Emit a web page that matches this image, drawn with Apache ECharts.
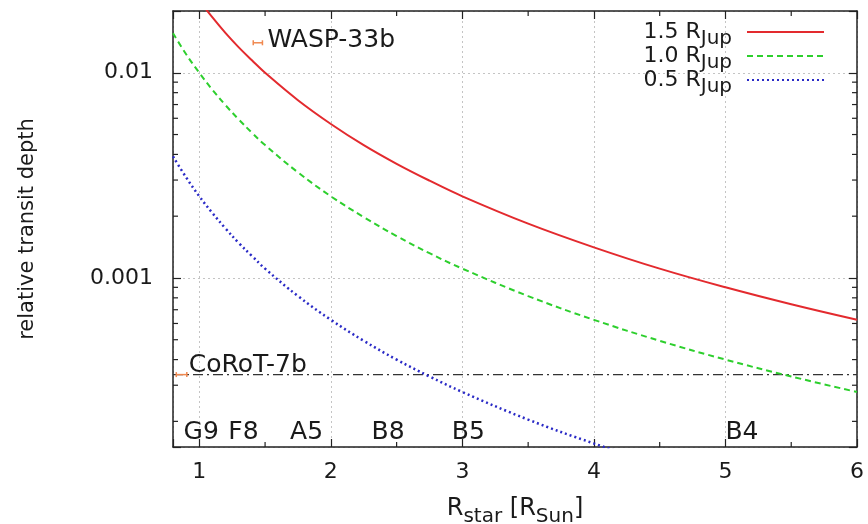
<!DOCTYPE html>
<html lang="en">
<head>
  <meta charset="UTF-8">
  <title>Relative transit depth vs stellar radius</title>
  <script src="https://cdn.jsdelivr.net/npm/echarts@6/dist/echarts.min.js"></script>
  <style>
    html, body { margin: 0; padding: 0; background: #fff; }
    #chart { width: 868px; height: 524px; }
  </style>
</head>
<body>
  <div id="chart"></div>
  <script>
    // stellar radius samples [R_Sun] and depth
    const rStar = [0.8, 0.9, 1.0, 1.1, 1.2, 1.3, 1.4, 1.5, 1.75, 2, 2.25, 2.5, 2.75, 3, 3.5, 4, 4.5, 5, 5.5, 6];
    const depth15 = [null, null, 0.0225, 0.0186, 0.0156, 0.0133, 0.0115, 0.0100, 0.00735, 0.00563, 0.00444, 0.00360, 0.00298, 0.00250, 0.00184, 0.00141, 0.00111, 0.00090, 0.000744, 0.000625];
    const depth10 = [0.0156, 0.0123, 0.0100, 0.00826, 0.00694, 0.00592, 0.00510, 0.00444, 0.00327, 0.00250, 0.00198, 0.00160, 0.00132, 0.00111, 0.000816, 0.000625, 0.000494, 0.000400, 0.000331, 0.000278];
    const depth05 = [0.00391, 0.00309, 0.00250, 0.00207, 0.00174, 0.00148, 0.00128, 0.00111, 0.000816, 0.000625, 0.000494, 0.000400, 0.000331, 0.000278, 0.000204, 0.000156, 0.000123, null, null, null];

    // spectral types along the bottom
    const specTypes = ['G9', 'F8', 'A5', 'B8', 'B5', 'B4'];
    const specRadius = [0.88, 1.22, 1.69, 2.31, 2.92, 5.0];
    const specLabelDepth = 0.000177;

    // known planets
    const planets = ['WASP-33b', 'CoRoT-7b'];
    const planetRadius = [1.445, 0.865];
    const planetRadiusErr = [0.035, 0.04];
    const planetDepth = [0.0140, 0.000338];

    const xMinorTicks = [1.5, 2.5, 3.5, 4.5, 5.5];
    const yMinorTicks = [0.0002, 0.0003, 0.0004, 0.0005, 0.0006, 0.0007, 0.0008, 0.0009,
      0.002, 0.003, 0.004, 0.005, 0.006, 0.007, 0.008, 0.009];

    const X_MIN = 0.8, X_MAX = 6, Y_MIN = 0.00015, Y_MAX = 0.02;
    const FONT = 'DejaVu Sans';
    const INK = '#1a1a1a';
    const labelOffset = [[5, -2], [2, -9]];

    const frame = { show: true, lineStyle: { color: '#222', width: 1.5 } };
    const tick = { show: true, inside: true, length: 8, lineStyle: { color: '#222', width: 1.2 } };
    const grid = { show: false, left: 173, right: 11, top: 11, bottom: 77, outerBoundsMode: 'none', containLabel: false };
    const dotted = { show: true, lineStyle: { color: '#c4c4c4', type: [2, 3], width: 1 } };

    const legendRich = {
      m: { fontSize: 22, fontFamily: FONT, color: INK, lineHeight: 22, verticalAlign: 'top' },
      s: { fontSize: 20, fontFamily: FONT, color: INK, lineHeight: 16, verticalAlign: 'top', padding: [8, 0, 0, 0] }
    };
    const titleRich = {
      m: { fontSize: 24, fontFamily: FONT, color: INK, lineHeight: 24, verticalAlign: 'top' },
      s: { fontSize: 20, fontFamily: FONT, color: INK, lineHeight: 18, verticalAlign: 'top', padding: [10, 0, 0, 0] }
    };

    function logLabel(v) {
      const e = Math.round(Math.log10(v));
      return Math.abs(Math.log10(v) - e) < 1e-6 ? (Math.pow(10, e)).toFixed(-e) : '';
    }

    const chart = echarts.init(document.getElementById('chart'));
    chart.setOption({
      animation: false,
      textStyle: { fontFamily: FONT },
      grid: grid,
      legend: {
        orient: 'vertical',
        right: 38,
        top: 16,
        align: 'right',
        itemWidth: 77,
        itemHeight: 14,
        itemGap: -4,
        selectedMode: false,
        itemStyle: { opacity: 0 },
        formatter: name => '{m|' + name + ' R}{s|Jup}',
        textStyle: { padding: [0, 10, 0, 0], rich: legendRich }
      },
      xAxis: [{
        type: 'value', min: X_MIN, max: X_MAX, position: 'bottom',
        axisLine: frame, axisTick: tick,
        axisLabel: {
          fontSize: 22, color: INK, margin: 14, fontFamily: FONT,
          formatter: v => Math.abs(v - Math.round(v)) < 1e-9 ? String(Math.round(v)) : ''
        },
        splitLine: dotted,
        name: '{m|R}{s|star}{m| [R}{s|Sun}{m|]}',
        nameLocation: 'middle', nameGap: 50,
        nameTextStyle: { rich: titleRich }
      }, {
        type: 'value', min: X_MIN, max: X_MAX, position: 'top',
        axisLine: frame, axisTick: tick, axisLabel: { show: false }, splitLine: { show: false }
      }],
      yAxis: [{
        type: 'log', logBase: 10, min: Y_MIN, max: Y_MAX, position: 'left',
        axisLine: frame, axisTick: tick,
        axisLabel: { fontSize: 22, color: INK, margin: 20, fontFamily: FONT, formatter: logLabel },
        splitLine: dotted,
        name: 'relative transit depth',
        nameLocation: 'middle', nameGap: 135,
        nameTextStyle: { fontSize: 21, color: INK, fontFamily: FONT }
      }, {
        type: 'log', logBase: 10, min: Y_MIN, max: Y_MAX, position: 'right',
        axisLine: frame, axisTick: tick, axisLabel: { show: false }, splitLine: { show: false }
      }],
      series: [{
        name: '1.5', type: 'line', symbol: 'none', smooth: 0.4,
        color: '#e32a2e',
        lineStyle: { width: 2, type: 'solid' },
        data: rStar.map((x, i) => [x, depth15[i]])
      }, {
        name: '1.0', type: 'line', symbol: 'none', smooth: 0.4,
        color: '#2dcf2d',
        lineStyle: { width: 2, type: [6, 4] },
        data: rStar.map((x, i) => [x, depth10[i]])
      }, {
        name: '0.5', type: 'line', symbol: 'none', smooth: 0.4,
        color: '#2a2ac6',
        lineStyle: { width: 2.5, type: [2, 3] },
        data: rStar.map((x, i) => [x, depth05[i]])
      }, {
        // CoRoT-7b depth across the whole range
        type: 'custom', silent: true, z: 3,
        data: [[X_MIN, planetDepth[1]]],
        renderItem: function (params, api) {
          const a = api.coord([X_MIN, api.value(1)]);
          const b = api.coord([X_MAX, api.value(1)]);
          return {
            type: 'line', shape: { x1: a[0], y1: a[1], x2: b[0], y2: b[1] },
            style: { stroke: '#333', lineWidth: 1.3, lineDash: [10, 4, 2, 4] }
          };
        }
      }, {
        // spectral type labels
        type: 'custom', silent: true, z: 4,
        data: specRadius.map((x, i) => [x, specLabelDepth]),
        renderItem: function (params, api) {
          const p = api.coord([api.value(0), api.value(1)]);
          return {
            type: 'text', x: p[0], y: p[1],
            style: { text: specTypes[params.dataIndex], fill: INK, font: '25px "DejaVu Sans"', align: 'left', verticalAlign: 'middle' }
          };
        }
      }, {
        type: 'custom', silent: true, z: 5,
        data: planetRadius.map((x, i) => [x, planetDepth[i]]),
        renderItem: function (params, api) {
          const i = params.dataIndex;
          const y = api.coord([planetRadius[i], planetDepth[i]])[1];
          const x0 = api.coord([planetRadius[i] - planetRadiusErr[i], planetDepth[i]])[0];
          const x1 = api.coord([planetRadius[i] + planetRadiusErr[i], planetDepth[i]])[0];
          const c = '#f0884f';
          const st = { stroke: c, lineWidth: 1.5 };
          return {
            type: 'group',
            children: [
              { type: 'line', shape: { x1: x0, y1: y, x2: x1, y2: y }, style: st },
              { type: 'line', shape: { x1: x0, y1: y - 2.5, x2: x0, y2: y + 2.5 }, style: st },
              { type: 'line', shape: { x1: x1, y1: y - 2.5, x2: x1, y2: y + 2.5 }, style: st },
              {
                type: 'text', x: x1 + labelOffset[i][0], y: y + labelOffset[i][1],
                style: { text: planets[i], fill: INK, font: '25px "DejaVu Sans"', align: 'left', verticalAlign: 'middle' }
              }
            ]
          };
        }
      }, {
        // minor ticks on the log axes, left and right
        type: 'custom', silent: true,
        data: yMinorTicks.map(v => [X_MIN, v]),
        renderItem: function (params, api) {
          const l = api.coord([X_MIN, api.value(1)]);
          const r = api.coord([X_MAX, api.value(1)]);
          const st = { stroke: '#222', lineWidth: 1.2 };
          return {
            type: 'group',
            children: [
              { type: 'line', shape: { x1: l[0], y1: l[1], x2: l[0] + 5, y2: l[1] }, style: st },
              { type: 'line', shape: { x1: r[0] - 5, y1: r[1], x2: r[0], y2: r[1] }, style: st }
            ]
          };
        }
      }, {
        // minor ticks on the x axes, bottom and top
        type: 'custom', silent: true,
        data: xMinorTicks.map(v => [v, Y_MIN]),
        renderItem: function (params, api) {
          const b = api.coord([api.value(0), Y_MIN]);
          const t = api.coord([api.value(0), Y_MAX]);
          const st = { stroke: '#222', lineWidth: 1.2 };
          return {
            type: 'group',
            children: [
              { type: 'line', shape: { x1: b[0], y1: b[1], x2: b[0], y2: b[1] - 5 }, style: st },
              { type: 'line', shape: { x1: t[0], y1: t[1], x2: t[0], y2: t[1] + 5 }, style: st }
            ]
          };
        }
      }]
    });
  </script>
</body>
</html>
